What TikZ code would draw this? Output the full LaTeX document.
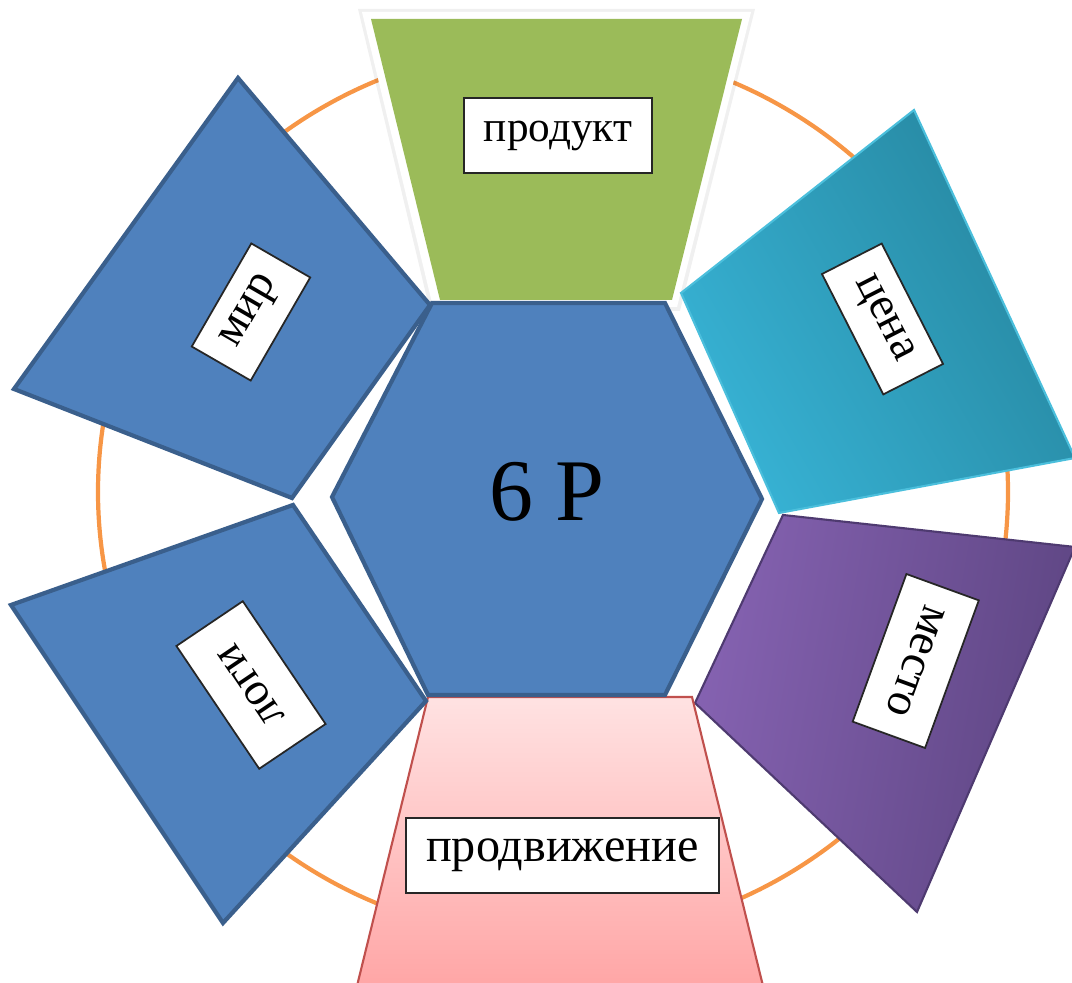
\documentclass[tikz,border=0pt]{standalone}
\usepackage{fontspec}
\setmainfont{Liberation Serif}
\definecolor{ringorange}{HTML}{F79646}
\definecolor{prodgreen}{HTML}{9BBB59}
\definecolor{hexblue}{HTML}{4F81BD}
\definecolor{hexedge}{HTML}{3A5F8C}
\definecolor{teallight}{HTML}{37B2D4}
\definecolor{tealdark}{HTML}{26869F}
\definecolor{tealedge}{HTML}{4BBFDC}
\definecolor{purplelight}{HTML}{8562B1}
\definecolor{purpledark}{HTML}{5D4582}
\definecolor{purpleedge}{HTML}{4E3A70}
\definecolor{pinktop}{HTML}{FFE2E2}
\definecolor{pinkbot}{HTML}{FFA5A5}
\definecolor{pinkedge}{HTML}{C0504D}
\begin{document}
\begin{tikzpicture}[x=0.01cm,y=-0.01cm,
  lbl/.style={draw=black!85, line width=0.5pt, fill=white,
    font=\fontsize{13.3}{16}\selectfont, inner sep=0pt, align=center},
  bluequad/.style={fill=hexblue, draw=hexedge, line width=1.2pt, line join=miter},
  ring/.style={draw=ringorange, line width=1.2pt}]
\useasboundingbox (0,0) rectangle (1072,983);

% orange ring
\draw[ring] (553,492) ellipse [x radius=455, y radius=446];

% green top trapezoid (продукт) with white frame and faint shadow
\fill[black, opacity=0.06] (358,9) -- (755,9) -- (680,311) -- (430,311) -- cycle;
\fill[white] (362,12) -- (751,12) -- (677,307) -- (433,307) -- cycle;
\fill[prodgreen] (371,19) -- (742,19) -- (672,300) -- (440,300) -- cycle;

% teal (цена)
\shade[left color=teallight, right color=tealdark, shading angle=120, draw=tealedge, line width=0.6pt]
  (914,110) -- (1075,458) -- (779,513) -- (681,293) -- cycle;

% purple (место)
\shade[left color=purplelight, right color=purpledark, shading angle=80, draw=purpleedge, line width=0.6pt]
  (783,515) -- (1075,547) -- (917,912) -- (695,703) -- cycle;

% pink bottom (продвижение)
\shade[top color=pinktop, bottom color=pinkbot, draw=pinkedge, line width=0.6pt]
  (428,697) -- (692,697) -- (764,990) -- (356,990) -- cycle;

% blue (логи) and (мир)
\draw[bluequad] (293,505) -- (11,605) -- (223,923) -- (426,701) -- cycle;
\draw[bluequad] (238,78) -- (14,389) -- (292,498) -- (430,305) -- cycle;

% central hexagon
\draw[bluequad] (432,303) -- (665,303) -- (762,499) -- (665,695) -- (428,695) -- (332,497) -- cycle;
\node[font=\fontsize{25}{30}\selectfont] (center) at (547,492) {6 P};

% labels
\node[lbl, font=\fontsize{12.3}{15}\selectfont, minimum width=18.8mm, minimum height=7.5mm] (produkt) at (558,135.5) {продукт};
\node[lbl, font=\fontsize{13.7}{16}\selectfont, minimum width=31.3mm, minimum height=7.5mm] (prodv) at (562.5,855.5) {продвижение};
\node[lbl, rotate=60, minimum width=11.9mm, minimum height=6.8mm] (mir) at (251,312) {мир};
\node[lbl, rotate=-63, minimum width=13.5mm, minimum height=6.7mm] (tsena) at (882.5,319) {цена};
\node[lbl, rotate=-110, minimum width=15.7mm, minimum height=7.7mm] (mesto) at (915.75,661) {место};
\node[lbl, rotate=124, minimum width=14.8mm, minimum height=8.0mm] (logi) at (251,685) {логи};
\end{tikzpicture}
\end{document}
